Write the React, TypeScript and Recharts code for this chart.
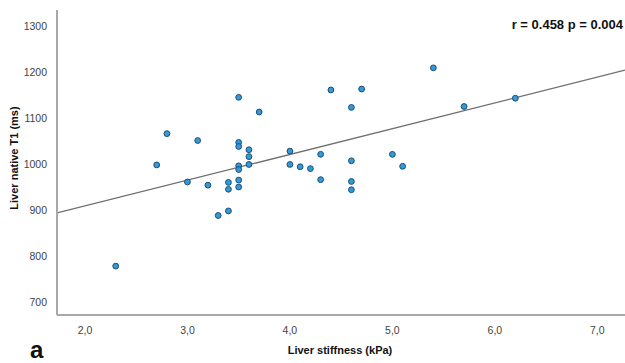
import React from "react";
import {
	ScatterChart,
	Scatter,
	XAxis,
	YAxis,
	ReferenceLine,
} from "recharts";

// liver stiffness (kPa) vs native T1 (ms)
const stiffness = [
	3.5, 3.7, 2.8, 3.1, 3.5, 3.5, 3.6, 3.6, 2.7, 3.6, 3.5, 3.5, 3.0, 3.2, 3.4, 3.4, 3.5, 3.5, 3.3, 3.4, 2.3,
	4.4, 4.7, 4.6, 5.4, 5.7, 4.0, 4.3, 4.0, 4.1, 4.2, 4.6, 5.0, 5.1, 4.3, 4.6, 4.6, 6.2,
];
const t1 = [
	1145, 1113, 1066, 1051, 1047, 1038, 1031, 1016, 998, 999, 996, 988, 961, 954, 960, 945, 965, 950, 888, 898, 778,
	1161, 1163, 1123, 1209, 1125, 1028, 1021, 999, 994, 990, 1007, 1021, 995, 966, 962, 944, 1143,
];

const xTicks = [2, 3, 4, 5, 6, 7];
const yTicks = [700, 800, 900, 1000, 1100, 1200, 1300];
const xDomain: [number, number] = [1.727, 7.27];
const yDomain: [number, number] = [671.7, 1334.8];

// fitted line
const fitIntercept = 796.8;
const fitSlope = 56.0;
const statsLabel = "r = 0.458 p = 0.004";

const points = stiffness.map((x, i) => ({ x, y: t1[i] }));

const tickStyle = { fill: "#444", fontSize: 10.5, fontFamily: "Arial, 'Liberation Sans', sans-serif" };

export default function App() {
	return (
		<div style={{ position: "absolute", left: 0, top: 0, width: 625, height: 363, background: "#fff", fontFamily: "Arial, 'Liberation Sans', sans-serif" }}>
			<ScatterChart width={625} height={363} margin={{ top: 10, right: 0, bottom: 0, left: 0 }}>
				<XAxis
					type="number"
					dataKey="x"
					domain={xDomain}
					ticks={xTicks}
					allowDataOverflow
					tickFormatter={(v) => v.toFixed(1).replace(".", ",")}
					tick={tickStyle}
					tickLine={false}
					tickMargin={6}
					axisLine={{ stroke: "#a8a8a8", strokeWidth: 2 }}
					height={48}
				/>
				<YAxis
					type="number"
					dataKey="y"
					domain={yDomain}
					ticks={yTicks}
					allowDataOverflow
					tick={tickStyle}
					tickLine={false}
					tickMargin={4}
					axisLine={{ stroke: "#a8a8a8", strokeWidth: 2 }}
					width={57}
				/>
				<ReferenceLine
					segment={[
						{ x: xDomain[0], y: fitIntercept + fitSlope * xDomain[0] },
						{ x: xDomain[1], y: fitIntercept + fitSlope * xDomain[1] },
					]}
					stroke="#6e6e6e"
					strokeWidth={1.3}
					ifOverflow="hidden"
				/>
				<Scatter
					data={points}
					fill="#2f97d6"
					stroke="#1d4e74"
					strokeWidth={1}
					shape={(p: any) => <circle cx={p.cx} cy={p.cy} r={2.9} fill="#3399d8" stroke="#1d4e74" strokeWidth={1} />}
					isAnimationActive={false}
				/>
			</ScatterChart>
			<div style={{ position: "absolute", right: 2, top: 17, fontSize: 13, fontWeight: "bold", color: "#111" }}>{statsLabel}</div>
			<div
				style={{
					position: "absolute",
					left: 14,
					top: 158,
					transform: "translate(-50%, -50%) rotate(-90deg)",
					whiteSpace: "nowrap",
					fontSize: 11,
					fontWeight: "bold",
					color: "#111",
				}}
			>
				Liver native T1 (ms)
			</div>
			<div style={{ position: "absolute", left: 340, top: 350, transform: "translate(-50%, -50%)", whiteSpace: "nowrap", fontSize: 11, fontWeight: "bold", color: "#111" }}>
				Liver stiffness (kPa)
			</div>
			<div style={{ position: "absolute", left: 30, top: 338, fontSize: 24, fontWeight: "bold", color: "#111", lineHeight: "24px" }}>a</div>
		</div>
	);
}
